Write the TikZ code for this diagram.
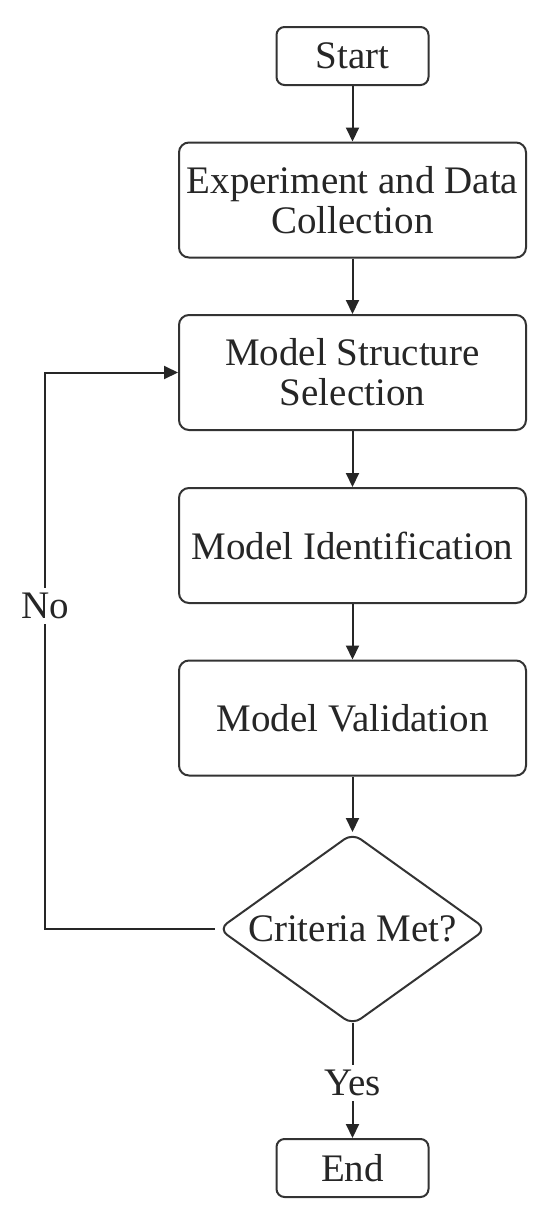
\documentclass[tikz,border=0pt]{standalone}
\usepackage{fontspec}
\setmainfont{Liberation Serif}
\usetikzlibrary{shapes.geometric,arrows.meta}
\begin{document}
\begin{tikzpicture}[x=1pt,y=-1pt,
  every node/.style={font=\fontsize{39}{40}\selectfont, text=black!85},
  proc/.style={draw=black!80, line width=2pt, rounded corners=10pt, minimum width=347pt, minimum height=115pt, align=center, inner sep=0pt},
  term/.style={draw=black!80, line width=2pt, rounded corners=8pt, minimum width=152pt, minimum height=58pt, inner sep=0pt},
  decision/.style={draw=black!80, line width=2pt, diamond, rounded corners=10pt, minimum width=268pt, minimum height=192pt, inner sep=0pt, aspect=1.4},
  conn/.style={draw=black!85, line width=2pt, -{Triangle[length=14pt,width=13pt]}},
  lbl/.style={fill=white, inner sep=5pt}]
\useasboundingbox (0,0) rectangle (550,1221);
\node[term] (start) at (352.5,56) {Start};
\node[proc] (exp) at (352.5,200) {Experiment and Data\\Collection};
\node[proc] (mss) at (352.5,372.5) {Model Structure\\Selection};
\node[proc] (mid) at (352.5,545.5) {Model Identification};
\node[proc] (mval) at (352.5,718) {Model Validation};
\node[decision] (crit) at (352.5,929) {Criteria Met?};
\node[term] (end) at (352.5,1168) {End};
\coordinate (fb1) at (45,929);
\coordinate (fb2) at (45,372.5);
\draw[conn] (start) -- (exp);
\draw[conn] (exp) -- (mss);
\draw[conn] (mss) -- (mid);
\draw[conn] (mid) -- (mval);
\draw[conn] (mval) -- (crit);
\draw[conn] ([xshift=-3pt]crit.west) -- (fb1) -- node[lbl, pos=0.58] {No} (fb2) -- (mss.west);
\draw[conn] ([yshift=3pt]crit.south) -- node[lbl, pos=0.52] {Yes} (end.north);
\end{tikzpicture}
\end{document}
